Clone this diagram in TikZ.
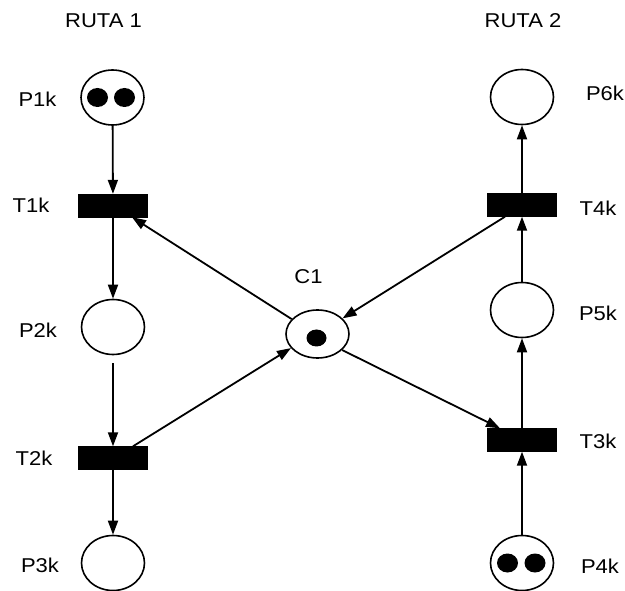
\documentclass[tikz,border=0pt]{standalone}
\usepackage{fontspec}
\setmainfont[FakeStretch=1.1]{Liberation Sans}
\usetikzlibrary{shapes.geometric,arrows.meta}
\begin{document}
\begin{tikzpicture}[x=1pt,y=-1pt,
  place/.style={draw,ellipse,line width=1.6pt,minimum width=63pt,minimum height=55pt,inner sep=0pt},
  trans/.style={draw,fill=black,rectangle,minimum width=69pt,minimum height=23pt,inner sep=0pt},
  lbl/.style={font=\fontsize{20}{22}\selectfont,inner sep=0pt},
  arc/.style={line width=1.8pt,-{Triangle[length=14pt,width=10pt]}},
  tok/.style={fill=black}]
\useasboundingbox (0,0) rectangle (625,591);
% places
\node[place] (p1) at (112.5,97.5) {};
\node[place] (p2) at (113,327) {};
\node[place] (p3) at (113,563) {};
\node[place] (p6) at (522,97) {};
\node[place] (p5) at (522,310) {};
\node[place] (p4) at (522,563) {};
\node[place,minimum height=48pt] (c1) at (317.5,334) {};
% transitions
\node[trans] (t1) at (113,205.5) {};
\node[trans] (t2) at (113,458) {};
\node[trans] (t4) at (522,205) {};
\node[trans] (t3) at (522,440) {};
% tokens
\fill[tok] ([xshift=-15pt]p1.center) ellipse (10.5pt and 9.5pt);
\fill[tok] ([xshift=12pt]p1.center) ellipse (10.5pt and 9.5pt);
\fill[tok] ([xshift=-14.5pt]p4.center) ellipse (10.5pt and 9.5pt);
\fill[tok] ([xshift=13pt]p4.center) ellipse (10.5pt and 9.5pt);
\fill[tok] ([xshift=-1pt,yshift=-4pt]c1.center) ellipse (10pt and 8.5pt);
% labels
\node[lbl] (r1) at (103.5,21) {RUTA 1};
\node[lbl] (r2) at (523,21) {RUTA 2};
\node[lbl] (lp1) at (37.5,99) {P1k};
\node[lbl] (lt1) at (31,205.5) {T1k};
\node[lbl] (lp2) at (38,330) {P2k};
\node[lbl] (lt2) at (34,458) {T2k};
\node[lbl] (lp3) at (40,565) {P3k};
\node[lbl] (lc1) at (308.5,277) {C1};
\node[lbl] (lp6) at (605,93) {P6k};
\node[lbl] (lt4) at (598,208) {T4k};
\node[lbl] (lp5) at (598,313) {P5k};
\node[lbl] (lt3) at (598,441) {T3k};
\node[lbl] (lp4) at (600,566) {P4k};
% arcs
\draw[arc] (p1) -- (t1);
\draw[arc] (t1) -- (p2);
\draw[arc] ([yshift=-8pt]p2.south) -- (t2);
\draw[arc] (t2) -- (p3);
\draw[arc] (p4) -- (t3);
\draw[arc] (t3) -- (p5);
\draw[arc] (p5) -- (t4);
\draw[arc] (t4) -- (p6);
\draw[arc] (c1.150) -- ([xshift=19pt]t1.south);
\draw[arc] ([xshift=20pt]t2.north) -- (c1.208);
\draw[arc] ([xshift=-17pt]t4.south) -- (c1.32);
\draw[arc] (c1.-33) -- ([xshift=-22pt]t3.north);
\end{tikzpicture}
\end{document}
